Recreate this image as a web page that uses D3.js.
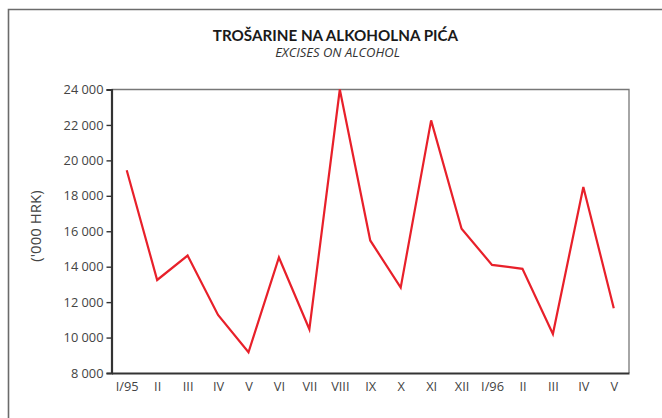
<!DOCTYPE html>
<html><head><meta charset="utf-8">
<script src="https://cdn.jsdelivr.net/npm/d3@7"></script>
<style>
html,body{margin:0;padding:0;background:#fff;}
svg{display:block;}
</style></head>
<body>
<svg id="chart" width="662" height="418"></svg>
<script>
const months = ["I/95","II","III","IV","V","VI","VII","VIII","IX","X","XI","XII","I/96","II ","III ","IV ","V "];
const monthLabels = ["I/95","II","III","IV","V","VI","VII","VIII","IX","X","XI","XII","I/96","II","III","IV","V"];
const excises = [19440,13250,14630,11280,9170,14520,10470,24000,15480,12820,22260,16140,14100,13880,10200,18500,11660];
const yTicks = [8000,10000,12000,14000,16000,18000,20000,22000,24000];

const svg = d3.select("#chart");
const L = 111.5, R = 629, T = 89.5, B = 373;
const OS = "'Open Sans',sans-serif";

// outer frame
svg.append("path").attr("d", `M8.5,420 V9.5 H665`).attr("fill","none")
  .attr("stroke","#6b6b6b").attr("stroke-width",1.6);

svg.append("text").attr("x",335.5).attr("y",40.5).attr("text-anchor","middle")
  .style("font-family","Lato,sans-serif").style("font-size","15.2px").style("font-weight","bold")
  .attr("fill","#1a1a1a")
  .text("TROŠARINE NA ALKOHOLNA PIĆA");
svg.append("text").attr("x",337.5).attr("y",57).attr("text-anchor","middle")
  .style("font-family",OS).style("font-size","13px").style("font-style","italic")
  .attr("fill","#333")
  .text("EXCISES ON ALCOHOL");

const x = d3.scalePoint().domain(months).range([L,R]).padding(0.5);
const y = d3.scaleLinear().domain([8000,24000]).range([B,T]);

// plot box: top & right thin grey
svg.append("path").attr("d",`M${L},${T} H${R} V${B}`).attr("fill","none")
  .attr("stroke","#777").attr("stroke-width",1.3);

const fmt = d => d3.format(",")(d).replace(/,/g," ");
const yAxis = d3.axisLeft(y).tickValues(yTicks).tickFormat(fmt).tickSize(5).tickPadding(3);
const gy = svg.append("g").attr("transform",`translate(${L},0)`).call(yAxis);
gy.select(".domain").attr("stroke","#333").attr("stroke-width",2.2);
gy.selectAll(".tick line").attr("stroke","#333").attr("stroke-width",1.4);
gy.selectAll(".tick text").attr("fill","#444")
  .style("font-family",OS).style("font-size","12.8px");

const xAxis = d3.axisBottom(x).tickSize(0).tickPadding(9).tickFormat((d,i)=>monthLabels[i]);
const gx = svg.append("g").attr("transform",`translate(0,${B})`).call(xAxis);
gx.select(".domain").attr("stroke","#333").attr("stroke-width",2.2);
gx.selectAll(".tick text").attr("fill","#444")
  .style("font-family",OS).style("font-size","12.8px");

svg.append("text").attr("transform",`translate(41,226) rotate(-90)`)
  .attr("text-anchor","middle").attr("fill","#444")
  .style("font-family",OS).style("font-size","15px")
  .text("('000 HRK)");

const line = d3.line().x((d,i)=>x(months[i])).y(d=>y(d));
svg.append("path").datum(excises).attr("d",line).attr("fill","none")
  .attr("stroke","#e8202a").attr("stroke-width",2.2).attr("stroke-linejoin","miter");
</script>
</body></html>
